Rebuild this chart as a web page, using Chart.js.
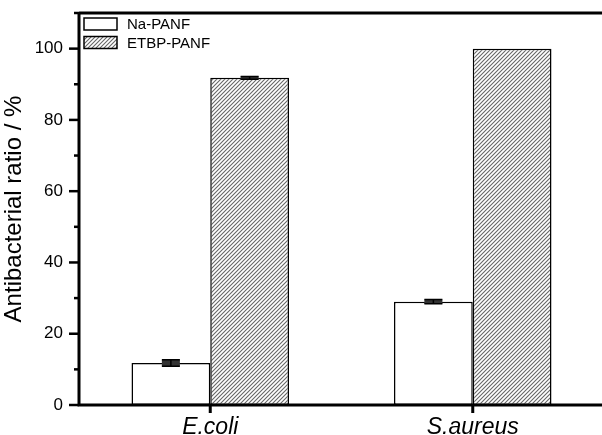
<!DOCTYPE html>
<html>
<head>
<meta charset="utf-8">
<script src="https://cdn.jsdelivr.net/npm/chart.js@4"></script>
<style>
html,body{margin:0;padding:0;overflow:hidden;background:#fff;}
#wrap{width:606px;height:435px;position:relative;}
</style>
</head>
<body>
<div id="wrap"><canvas id="c"></canvas></div>
<script>
const categories = ['E.coli', 'S.aureus'];
const seriesNames = ['Na-PANF', 'ETBP-PANF'];
const naValues = [11.8, 29.0];
const naErrors = [0.9, 0.6];
const etbpValues = [91.8, 100.0];
const etbpErrors = [0.4, 0.0];
const yTickLabels = [0, 20, 40, 60, 80, 100];

function makeHatch() {
  const s = 4;
  const p = document.createElement('canvas');
  p.width = s; p.height = s;
  const g = p.getContext('2d');
  g.fillStyle = '#ffffff';
  g.fillRect(0, 0, s, s);
  g.strokeStyle = '#666666';
  g.lineWidth = 1.1;
  g.beginPath();
  g.moveTo(0, s); g.lineTo(s, 0);
  g.moveTo(-1, 1); g.lineTo(1, -1);
  g.moveTo(s - 1, s + 1); g.lineTo(s + 1, s - 1);
  g.stroke();
  return document.getElementById('c').getContext('2d').createPattern(p, 'repeat');
}
const hatch = makeHatch();

const decor = {
  id: 'decor',
  afterDatasetsDraw(chart) {
    const ctx = chart.ctx;
    const y = chart.scales.y;
    const errs = [naErrors, etbpErrors];
    ctx.save();
    chart.data.datasets.forEach((ds, di) => {
      const meta = chart.getDatasetMeta(di);
      meta.data.forEach((bar, i) => {
        const e = errs[di][i];
        if (!e) return;
        const v = ds.data[i];
        const yt = y.getPixelForValue(v + e);
        const yb = y.getPixelForValue(v - e);
        const x = bar.x;
        const hw = 9;
        ctx.fillStyle = '#333';
        ctx.fillRect(x - hw, yt, hw * 2, yb - yt);
        ctx.strokeStyle = '#000';
        ctx.lineWidth = 1.5;
        ctx.beginPath();
        ctx.moveTo(x - hw, yt); ctx.lineTo(x + hw, yt);
        ctx.moveTo(x - hw, yb); ctx.lineTo(x + hw, yb);
        ctx.moveTo(x, yt); ctx.lineTo(x, yb);
        ctx.stroke();
      });
    });
    // axes frame
    const a = chart.chartArea;
    ctx.strokeStyle = '#000';
    ctx.lineWidth = 3;
    ctx.beginPath();
    ctx.moveTo(a.left, a.top); ctx.lineTo(a.left, a.bottom); ctx.lineTo(a.right, a.bottom);
    ctx.moveTo(a.left, a.top); ctx.lineTo(a.right, a.top);
    ctx.lineTo(a.right, a.bottom);
    ctx.stroke();
    // y ticks
    for (let v = 0; v <= 110; v += 10) {
      const py = y.getPixelForValue(v);
      const major = v % 20 === 0;
      ctx.lineWidth = 2.5;
      ctx.beginPath();
      ctx.moveTo(a.left, py); ctx.lineTo(a.left - (major ? 10 : 5), py);
      ctx.stroke();
    }
    // x ticks
    const xs = chart.scales.x;
    categories.forEach((c, i) => {
      const px = xs.getPixelForValue(i);
      ctx.lineWidth = 3;
      ctx.beginPath();
      ctx.moveTo(px, a.bottom); ctx.lineTo(px, a.bottom + 8);
      ctx.stroke();
    });
    // legend
    const lx = a.left + 5;
    const items = [{fill: '#ffffff'}, {fill: hatch}];
    ctx.font = '15px "Liberation Sans", Arial, sans-serif';
    ctx.textBaseline = 'middle';
    ctx.textAlign = 'left';
    items.forEach((it, k) => {
      const cy = a.top + 11 + k * 18.5;
      ctx.fillStyle = it.fill;
      ctx.fillRect(lx, cy - 6, 33, 12);
      ctx.strokeStyle = '#000';
      ctx.lineWidth = 1.5;
      ctx.strokeRect(lx, cy - 6, 33, 12);
      ctx.fillStyle = '#000';
      ctx.fillText(seriesNames[k], lx + 43, cy + 1);
    });
    ctx.restore();
  }
};

new Chart(document.getElementById('c'), {
  type: 'bar',
  data: {
    labels: categories,
    datasets: [
      {label: seriesNames[0], data: naValues, backgroundColor: '#ffffff', borderColor: '#000', borderWidth: 1.5, borderSkipped: false},
      {label: seriesNames[1], data: etbpValues, backgroundColor: hatch, borderColor: '#000', borderWidth: 1.5, borderSkipped: false}
    ]
  },
  options: {
    responsive: true,
    maintainAspectRatio: false,
    animation: false,
    devicePixelRatio: 1,
    layout: {padding: {top: 13, right: 2, left: 0, bottom: 0}},
    plugins: {legend: {display: false}, tooltip: {enabled: false}},
    datasets: {bar: {categoryPercentage: 0.6, barPercentage: 1.0}},
    scales: {
      x: {
        grid: {display: false, drawTicks: false},
        border: {display: false},
        ticks: {
          color: '#000',
          padding: 9,
          font: {family: '"Liberation Sans", Arial, sans-serif', size: 23, style: 'italic'}
        },
        afterFit(s) { s.height = 30; s.paddingLeft = 0; s.paddingRight = 0; }
      },
      y: {
        min: 0, max: 110,
        afterBuildTicks(s) { s.ticks = yTickLabels.map(v => ({value: v})); },
        grid: {display: false, drawTicks: false},
        border: {display: false},
        ticks: {
          color: '#000',
          padding: 16,
          font: {family: '"Liberation Sans", Arial, sans-serif', size: 17}
        },
        title: {
          display: true,
          text: 'Antibacterial ratio / %',
          color: '#000',
          padding: {top: 0, bottom: 2},
          font: {family: '"Liberation Sans", Arial, sans-serif', size: 24}
        },
        afterFit(s) { s.width = 79; s.paddingTop = 0; s.paddingBottom = 0; }
      }
    }
  },
  plugins: [decor]
});
</script>
</body>
</html>
